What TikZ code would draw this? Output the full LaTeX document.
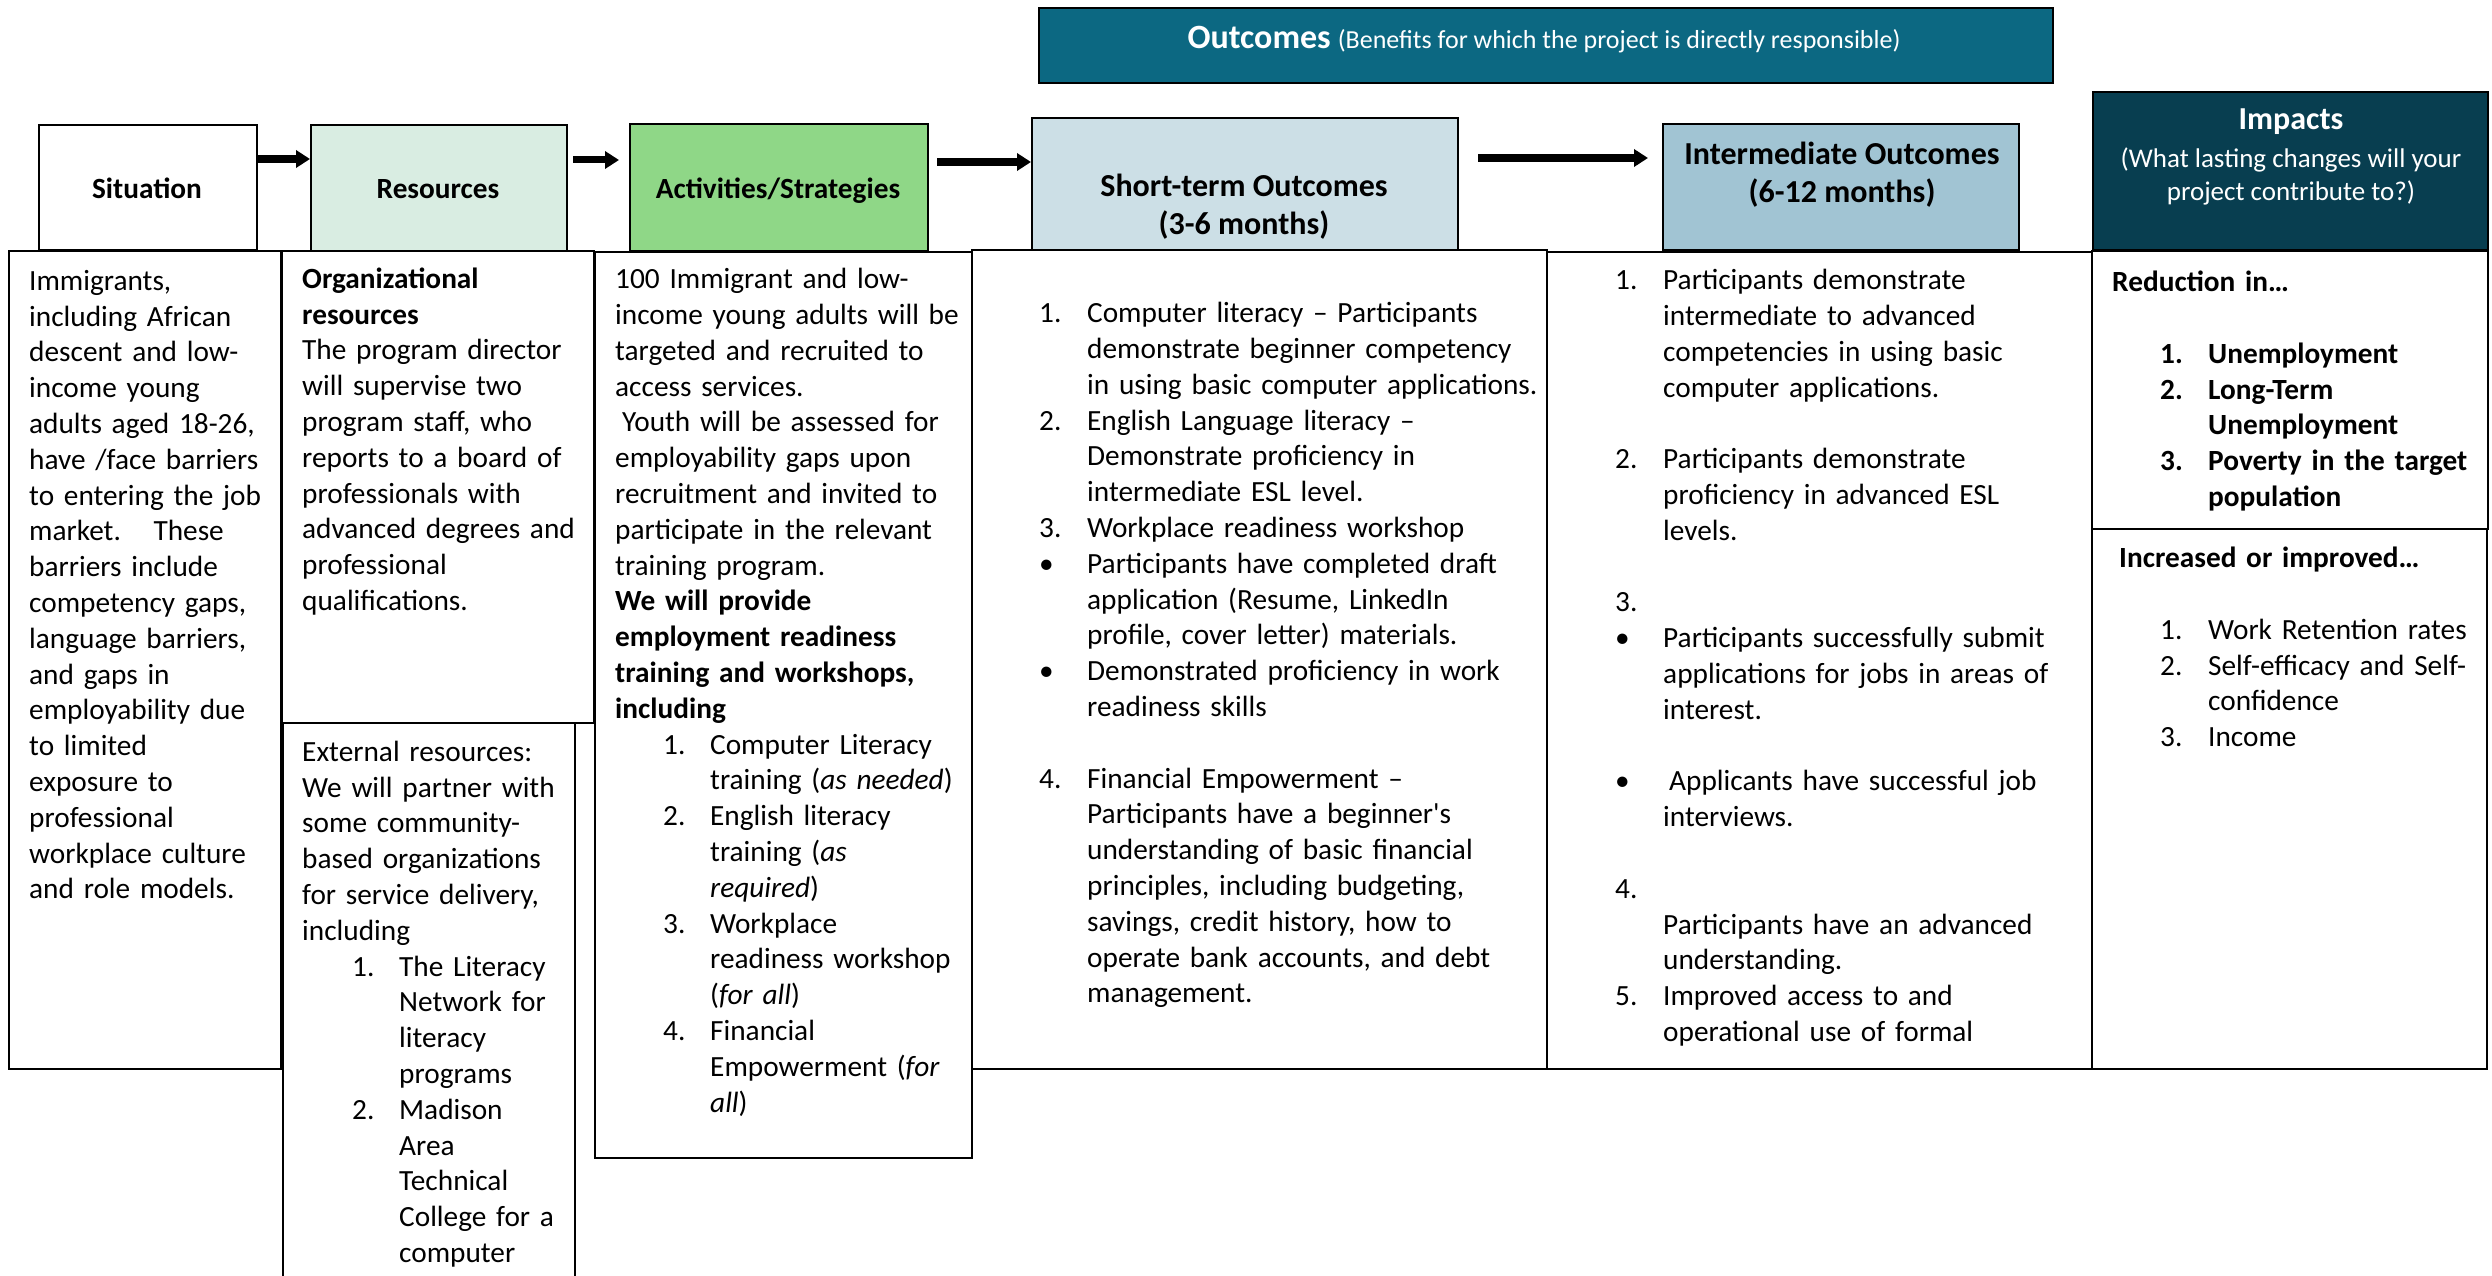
\documentclass[tikz,border=0pt]{standalone}
\usepackage{fontspec}
\setmainfont{Carlito}
\setmonofont{Carlito}
\usetikzlibrary{arrows.meta,calc}
\definecolor{resgreen}{RGB}{217,237,226}
\definecolor{actgreen}{RGB}{143,215,135}
\definecolor{shortblue}{RGB}{204,223,230}
\definecolor{interblue}{RGB}{161,196,211}
\definecolor{impdark}{RGB}{8,62,80}
\definecolor{bannerteal}{RGB}{12,104,130}
\newcommand{\fs}{\rule{0pt}{25pt}}
\newcommand{\itm}[3]{\hspace*{#1}\makebox[#2][l]{#3}}
\newcommand{\cnt}[1]{\hspace*{#1}}
\newcommand{\sq}{\texttt{'}}
\tikzset{
  box/.style={draw=black, line width=2pt, inner sep=0pt, anchor=north west},
  hdrtext/.style={font=\fontsize{29.3pt}{35.8pt}\selectfont\bfseries, anchor=base, inner sep=0pt},
  bigtext/.style={font=\fontsize{32pt}{38pt}\selectfont\bfseries, anchor=base, inner sep=0pt},
  bodytext/.style={anchor=north west, inner sep=0pt, text width=700pt, align=left, font=\fontsize{29.3pt}{35.8pt}\selectfont},
  flow/.style={line width=8pt, -{Triangle[length=14pt,width=17pt]}},
}
\begin{document}
\begin{tikzpicture}[x=1pt,y=-1pt]
\fill[white] (0,0) rectangle (2492,1276);
\useasboundingbox (0,0) rectangle (2492,1276);

% body boxes
\node[box, minimum width=272pt, minimum height=818pt] (sitb) at (8,250) {};
\node[box, minimum width=312pt, minimum height=472pt] (orgb) at (281,250) {};
\node[box, minimum width=292pt, minimum height=570pt] (extb) at (282,722) {};
\node[box, minimum width=377pt, minimum height=906pt] (actb) at (594,251) {};
\node[box, minimum width=575pt, minimum height=819pt] (shortb) at (971,249) {};
\node[box, minimum width=545pt, minimum height=817pt] (interb) at (1546,251) {};
\node[box, minimum width=396pt, minimum height=278pt] (redb) at (2091,250) {};
\node[box, minimum width=395pt, minimum height=540pt] (incb) at (2091,528) {};

% header boxes
\node[box, fill=white, minimum width=218pt, minimum height=125pt] (sith) at (38,124) {};
\node[box, fill=resgreen, minimum width=256pt, minimum height=126pt] (resh) at (310,124) {};
\node[box, fill=actgreen, minimum width=298pt, minimum height=127pt] (acth) at (629,123) {};
\node[box, fill=shortblue, minimum width=426pt, minimum height=132pt] (shorth) at (1031,117) {};
\node[box, fill=interblue, minimum width=356pt, minimum height=126pt] (interh) at (1662,123) {};
\node[box, fill=impdark, minimum width=395pt, minimum height=158pt] (imph) at (2092,91) {};
\node[box, fill=bannerteal, minimum width=1014pt, minimum height=75pt] (banner) at (1038,7) {};

% header texts
\node[hdrtext] (sitt) at (147,199) {Situation};
\node[hdrtext] (rest) at (438,199) {Resources};
\node[hdrtext] (actt) at (778,199) {Activities/Strategies};
\node[bigtext] (shortt1) at (1244,197) {Short-term Outcomes};
\node[bigtext] (shortt2) at (1244,234) {(3-6 months)};
\node[bigtext] (intert1) at (1842,165) {Intermediate Outcomes};
\node[bigtext] (intert2) at (1842,203) {(6-12 months)};
\node[bigtext, text=white] (impt1) at (2291,130) {Impacts};
\node[anchor=base, inner sep=0pt, text=white, font=\fontsize{27pt}{33pt}\selectfont] (impt2) at (2291,168) {(What lasting changes will your};
\node[anchor=base, inner sep=0pt, text=white, font=\fontsize{27pt}{33pt}\selectfont] (impt3) at (2291,201) {project contribute to?)};
\node[anchor=base, inner sep=0pt, text=white] (bant) at (1544,49) {{\fontsize{34pt}{40pt}\selectfont\bfseries Outcomes}\hspace{7pt}{\fontsize{26pt}{32pt}\selectfont(Benefits for which the project is directly responsible)}};

% arrows
\coordinate (a1s) at ([yshift=28.5pt]sith.east);
\draw[flow] (a1s) -- (a1s -| resh.west);
\coordinate (a2s) at ([xshift=5pt,yshift=28pt]resh.east);
\coordinate (a2e) at ($(a2s -| acth.west)+(-10,0)$);
\draw[flow, line width=7pt] (a2s) -- (a2e);
\coordinate (a3s) at ([xshift=8pt,yshift=25.5pt]acth.east);
\draw[flow] (a3s) -- (a3s -| shorth.west);
\coordinate (a4s) at ([xshift=19pt,yshift=26pt]shorth.east);
\coordinate (a4e) at ($(a4s -| interh.west)+(-14,0)$);
\draw[flow] (a4s) -- (a4e);

% body texts
\node[bodytext] (sitx) at (29,265) {\fs Immigrants,\\
including African\\
descent and low-\\
income young\\
adults aged 18-26,\\
have /face barriers\\
to entering the job\\
market.\hspace{18pt} These\\
barriers include\\
competency gaps,\\
language barriers,\\
and gaps in\\
employability due\\
to limited\\
exposure to\\
professional\\
workplace culture\\
and role models.};

\node[bodytext] (orgx) at (302,263) {\fs\textbf{Organizational}\\
\textbf{resources}\\
The program director\\
will supervise two\\
program staff, who\\
reports to a board of\\
professionals with\\
advanced degrees and\\
professional\\
qualifications.};

\node[bodytext] (extx) at (302,736) {\fs External resources:\\
We will partner with\\
some community-\\
based organizations\\
for service delivery,\\
including\\
\itm{50pt}{47pt}{1.}The Literacy\\
\cnt{97pt}Network for\\
\cnt{97pt}literacy\\
\cnt{97pt}programs\\
\itm{50pt}{47pt}{2.}Madison\\
\cnt{97pt}Area\\
\cnt{97pt}Technical\\
\cnt{97pt}College for a\\
\cnt{97pt}computer};

\node[bodytext] (actx) at (615,263.5) {\fs 100 Immigrant and low-\\
income young adults will be\\
targeted and recruited to\\
access services.\\
\hspace*{7pt}Youth will be assessed for\\
employability gaps upon\\
recruitment and invited to\\
participate in the relevant\\
training program.\\
\textbf{We will provide}\\
\textbf{employment readiness}\\
\textbf{training and workshops,}\\
\textbf{including}\\
\itm{48pt}{47pt}{1.}Computer Literacy\\
\cnt{95pt}training (\textit{as needed})\\
\itm{48pt}{47pt}{2.}English literacy\\
\cnt{95pt}training (\textit{as}\\
\cnt{95pt}\textit{required})\\
\itm{48pt}{47pt}{3.}Workplace\\
\cnt{95pt}readiness workshop\\
\cnt{95pt}(\textit{for all})\\
\itm{48pt}{47pt}{4.}Financial\\
\cnt{95pt}Empowerment (\textit{for}\\
\cnt{95pt}\textit{all})};

\node[bodytext] (shortx) at (1039,297.5) {\fs\makebox[48pt][l]{1.}Computer literacy – Participants\\
\cnt{48pt}demonstrate beginner competency\\
\cnt{48pt}in using basic computer applications.\\
\makebox[48pt][l]{2.}English Language literacy –\\
\cnt{48pt}Demonstrate proficiency in\\
\cnt{48pt}intermediate ESL level.\\
\makebox[48pt][l]{3.}Workplace readiness workshop\\
\makebox[48pt][l]{•}Participants have completed draft\\
\cnt{48pt}application (Resume, LinkedIn\\
\cnt{48pt}profile, cover letter) materials.\\
\makebox[48pt][l]{•}Demonstrated proficiency in work\\
\cnt{48pt}readiness skills\\
\mbox{}\\
\makebox[48pt][l]{4.}Financial Empowerment –\\
\cnt{48pt}Participants have a beginner\sq s\\
\cnt{48pt}understanding of basic financial\\
\cnt{48pt}principles, including budgeting,\\
\cnt{48pt}savings, credit history, how to\\
\cnt{48pt}operate bank accounts, and debt\\
\cnt{48pt}management.};

\node[bodytext] (interx) at (1615,264.5) {\fs\makebox[48pt][l]{1.}Participants demonstrate\\
\cnt{48pt}intermediate to advanced\\
\cnt{48pt}competencies in using basic\\
\cnt{48pt}computer applications.\\
\mbox{}\\
\makebox[48pt][l]{2.}Participants demonstrate\\
\cnt{48pt}proficiency in advanced ESL\\
\cnt{48pt}levels.\\
\mbox{}\\
3.\\
\makebox[48pt][l]{•}Participants successfully submit\\
\cnt{48pt}applications for jobs in areas of\\
\cnt{48pt}interest.\\
\mbox{}\\
\makebox[54pt][l]{•}Applicants have successful job\\
\cnt{48pt}interviews.\\
\mbox{}\\
4.\\
\cnt{48pt}Participants have an advanced\\
\cnt{48pt}understanding.\\
\makebox[48pt][l]{5.}Improved access to and\\
\cnt{48pt}operational use of formal};

\node[bodytext, font=\fontsize{29.3pt}{35.8pt}\selectfont\bfseries] (redx) at (2112,266.5) {\fs Reduction in…\\
\mbox{}\\
\itm{48pt}{48pt}{1.}Unemployment\\
\itm{48pt}{48pt}{2.}Long-Term\\
\cnt{96pt}Unemployment\\
\itm{48pt}{48pt}{3.}Poverty in the target\\
\cnt{96pt}population};

\node[bodytext] (incx) at (2119,542.5) {\fs\textbf{Increased or improved…}\\
\mbox{}\\
\itm{41pt}{48pt}{1.}Work Retention rates\\
\itm{41pt}{48pt}{2.}Self-efficacy and Self-\\
\cnt{89pt}confidence\\
\itm{41pt}{48pt}{3.}Income};
\end{tikzpicture}
\end{document}
